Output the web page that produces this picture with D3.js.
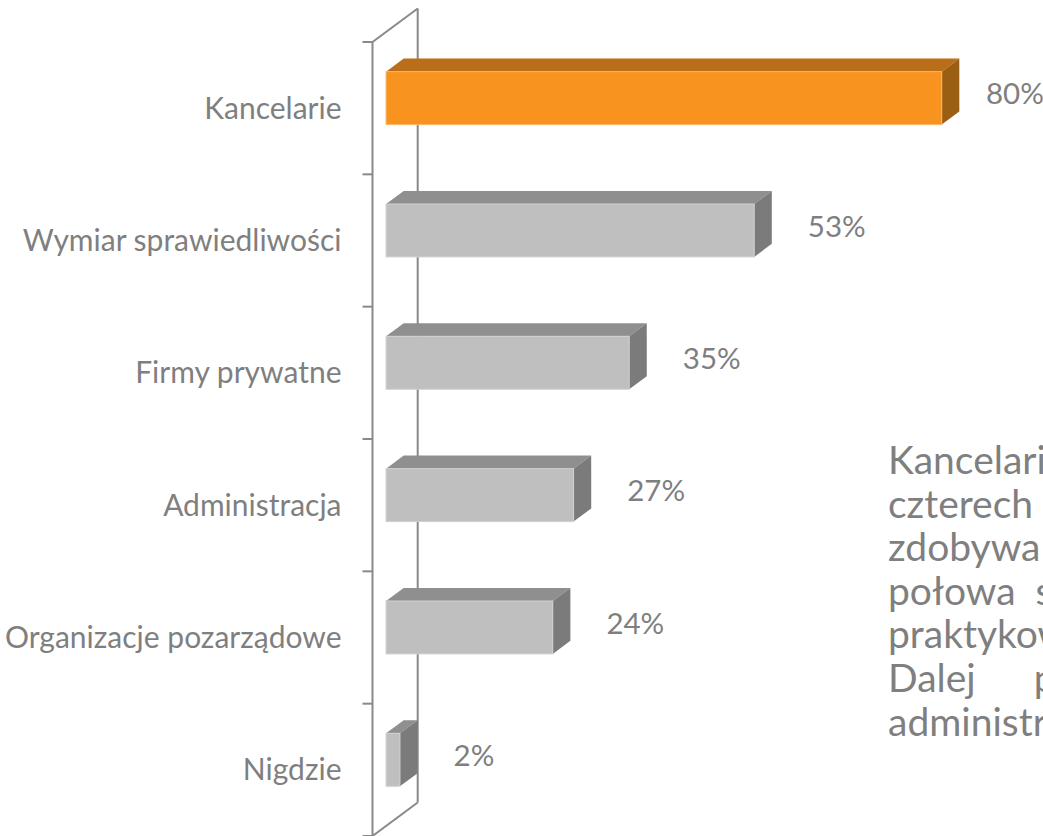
<!DOCTYPE html>
<html><head><meta charset="utf-8">
<script src="https://cdn.jsdelivr.net/npm/d3@7"></script>
<style>
html,body{margin:0;padding:0;background:#fff;overflow:hidden}
svg{display:block}
</style></head>
<body>
<svg id="c" width="1043" height="836"></svg>
<script>
// ---- data ----
const categories = ["Kancelarie","Wymiar sprawiedliwości","Firmy prywatne","Administracja","Organizacje pozarządowe","Nigdzie"];
const values = [80, 53, 35, 27, 24, 2];
const valueLabels = ["80%","53%","35%","27%","24%","2%"];
const highlighted = ["Kancelarie"];
const noteLines = [
  "Kancelarie są miejscem, w którym trzech na",
  "czterech studentów prawa",
  "zdobywa doświadczenie. Ponad",
  "połowa studentów",
  "praktykowała w wymiarze",
  "Dalej plasują się",
  "administracja i NGO."
];

// ---- layout ----
const W = 1043, H = 836;
const frontX = 372.5, wallTop = 42, wallBottom = 836;
const depthX = 45.2, depthY = 33.5;          // full wall depth
const barFrontDepth = 0.3, barBackDepth = 0.69; // bar position inside depth
const font = "Lato, 'Open Sans', sans-serif";
const textColor = "#7f7f7f";
const lineColor = "#898989";

const svg = d3.select("#c");

const y = d3.scaleBand().domain(categories).range([wallTop, wallBottom]).paddingInner(0.6).paddingOuter(0.3);
const x0 = frontX + barFrontDepth * depthX;
const x = d3.scaleLinear().domain([0, 80]).range([x0, 941.7]);
const bdx = (barBackDepth - barFrontDepth) * depthX;
const bdy = (barBackDepth - barFrontDepth) * depthY;
const shiftY = barFrontDepth * depthY;

// wall
const wall = svg.append("g").attr("fill","none").attr("stroke",lineColor).attr("stroke-width",2);
wall.append("line").attr("x1",frontX).attr("y1",wallTop).attr("x2",frontX).attr("y2",wallBottom);
wall.append("line").attr("x1",frontX+depthX).attr("y1",wallTop-depthY).attr("x2",frontX+depthX).attr("y2",wallBottom-depthY);
wall.append("line").attr("x1",frontX).attr("y1",wallTop).attr("x2",frontX+depthX).attr("y2",wallTop-depthY);
wall.append("line").attr("x1",frontX).attr("y1",wallBottom).attr("x2",frontX+depthX).attr("y2",wallBottom-depthY);
// boundary ticks
const step = y.step();
const bounds = d3.range(categories.length + 1).map(i => wallTop + i * step);
wall.selectAll("line.tk").data(bounds).join("line").attr("class","tk")
  .attr("x1",frontX-10).attr("x2",frontX).attr("y1",d=>d).attr("y2",d=>d);

// category axis labels
const axis = svg.append("g").attr("transform",`translate(${frontX},0)`)
  .call(d3.axisLeft(y).tickSize(0).tickPadding(31));
axis.select(".domain").remove();
axis.selectAll("text").attr("fill",textColor).style("font-family",font).style("font-size","30px")
  .attr("dy","0.35em");

// bars
const data = categories.map((c,i)=>({c, v: values[i], label: valueLabels[i], hi: highlighted.includes(c)}));
const colors = {
  hi: {front:"#f7931e", top:"#b96e17", side:"#9b5f14", edge:"#fbb765"},
  lo: {front:"#bfbfbf", top:"#8f8f8f", side:"#7b7b7b", edge:"#d0d0d0"}
};
const bars = svg.append("g");
data.forEach(d => {
  const col = d.hi ? colors.hi : colors.lo;
  const yt = y(d.c) - shiftY, yb = yt + y.bandwidth();
  const xl = x(0), xr = x(d.v);
  const g = bars.append("g");
  g.append("polygon").attr("fill",col.top)
    .attr("points",[[xl,yt],[xl+bdx,yt-bdy],[xr+bdx,yt-bdy],[xr,yt]].join(" "));
  g.append("polygon").attr("fill",col.side)
    .attr("points",[[xr,yt],[xr+bdx,yt-bdy],[xr+bdx,yb-bdy],[xr,yb]].join(" "));
  g.append("rect").attr("x",xl).attr("y",yt).attr("width",xr-xl).attr("height",yb-yt)
    .attr("fill",col.front).attr("stroke",col.edge).attr("stroke-width",1);
  g.append("text").attr("x",Math.min(xr + bdx + 36, 986)).attr("y",(yt+yb)/2 - 4)
    .attr("dy","0.35em").attr("fill",textColor).style("font-family",font).style("font-size","29.5px")
    .text(d.label);
});

// note text
const wordSpacing = [0, 40, 10, 10, 0, 48, 0];
svg.append("g").selectAll("text").data(noteLines).join("text")
  .attr("x",888).attr("y",(d,i)=>474 + i*43.6)
  .attr("fill",textColor).style("font-family",font).style("font-size","39px")
  .style("word-spacing",(d,i)=>wordSpacing[i]+"px")
  .text(d=>d);
</script>
</body></html>
